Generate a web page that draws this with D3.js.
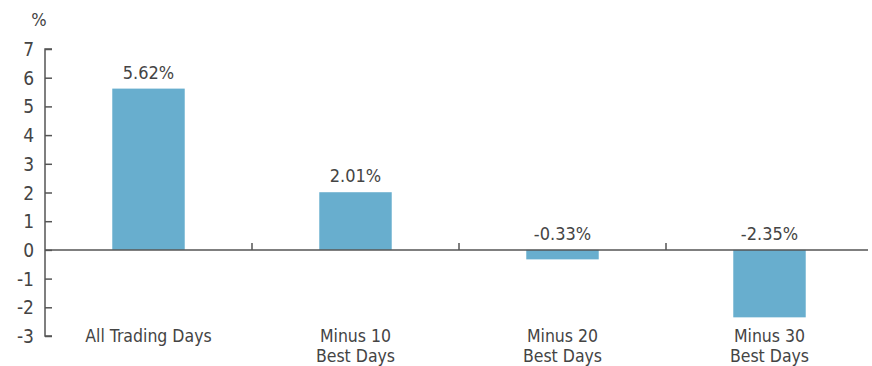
<!DOCTYPE html>
<html lang="en">
<head>
    <meta charset="UTF-8">
    <title>Best Days</title>
    <script src="https://d3js.org/d3.v7.min.js"></script>
    <style>
        body { margin: 0; background: #fff; }
        text { font-family: "Liberation Sans Narrow", "DejaVu Sans Condensed", "Roboto", sans-serif; fill: #444; }
    </style>
</head>
<body>
    <svg id="chart"></svg>
    <script>
const categories = [["All Trading Days"], ["Minus 10", "Best Days"], ["Minus 20", "Best Days"], ["Minus 30", "Best Days"]];
const values = [5.62, 2.01, -0.33, -2.35];
const valueLabels = ["5.62%", "2.01%", "-0.33%", "-2.35%"];
const yTicks = [-3, -2, -1, 0, 1, 2, 3, 4, 5, 6, 7];

const width = 872, height = 366;
const mLeft = 45, mRight = 873, mTop = 49, mBottom = 336;

const svg = d3.select("#chart").attr("width", width).attr("height", height);

const x = d3.scaleBand().domain(d3.range(categories.length)).range([mLeft, mRight]).paddingInner(0).paddingOuter(0);
const y = d3.scaleLinear().domain([-3, 7]).range([mBottom, mTop]);
const barW = x.bandwidth() * 0.35;

// y axis
const yAxis = svg.append("g").attr("transform", `translate(${mLeft},0)`)
    .call(d3.axisRight(y).tickValues(yTicks).tickSize(7).tickFormat(""));
yAxis.select(".domain").attr("stroke", "#555").attr("stroke-width", 1.5).attr("d", `M7,${mBottom}H0V${mTop}H7`);
yAxis.selectAll(".tick line").attr("stroke", "#555").attr("stroke-width", 1.5);

svg.selectAll(".ylab").data(yTicks).join("text")
    .attr("class", "ylab")
    .attr("x", 34).attr("y", d => y(d) + 7)
    .attr("text-anchor", "end").attr("font-size", 19)
    .text(d => d);

svg.append("text").attr("x", 39).attr("y", 26).attr("text-anchor", "middle").attr("font-size", 18).text("%");

// bars
svg.selectAll("rect").data(values).join("rect")
    .attr("x", (d, i) => x(i) + (x.bandwidth() - barW) / 2)
    .attr("y", d => y(Math.max(0, d)))
    .attr("width", barW)
    .attr("height", d => Math.abs(y(d) - y(0)))
    .attr("fill", "#68aece");

// zero line with category ticks
svg.append("line").attr("x1", mLeft).attr("x2", 868).attr("y1", y(0)).attr("y2", y(0))
    .attr("stroke", "#555").attr("stroke-width", 1.5);
svg.selectAll(".xtick").data(d3.range(1, categories.length)).join("line")
    .attr("class", "xtick")
    .attr("x1", d => x(d)).attr("x2", d => x(d))
    .attr("y1", y(0)).attr("y2", y(0) - 7)
    .attr("stroke", "#555").attr("stroke-width", 1.5);

// value labels
svg.selectAll(".vlab").data(values).join("text")
    .attr("class", "vlab")
    .attr("x", (d, i) => x(i) + x.bandwidth() / 2)
    .attr("y", d => y(Math.max(0, d)) - 10)
    .attr("text-anchor", "middle").attr("font-size", 18)
    .text((d, i) => valueLabels[i]);

// category labels
const cl = svg.selectAll(".clab").data(categories).join("text")
    .attr("class", "clab")
    .attr("x", (d, i) => x(i) + x.bandwidth() / 2)
    .attr("y", 342)
    .attr("text-anchor", "middle").attr("font-size", 17.5);
cl.selectAll("tspan").data(d => d).join("tspan")
    .attr("x", function () { return this.parentNode.getAttribute("x"); })
    .attr("dy", (d, i) => i === 0 ? 0 : 20)
    .text(d => d);
    </script>
</body>
</html>
